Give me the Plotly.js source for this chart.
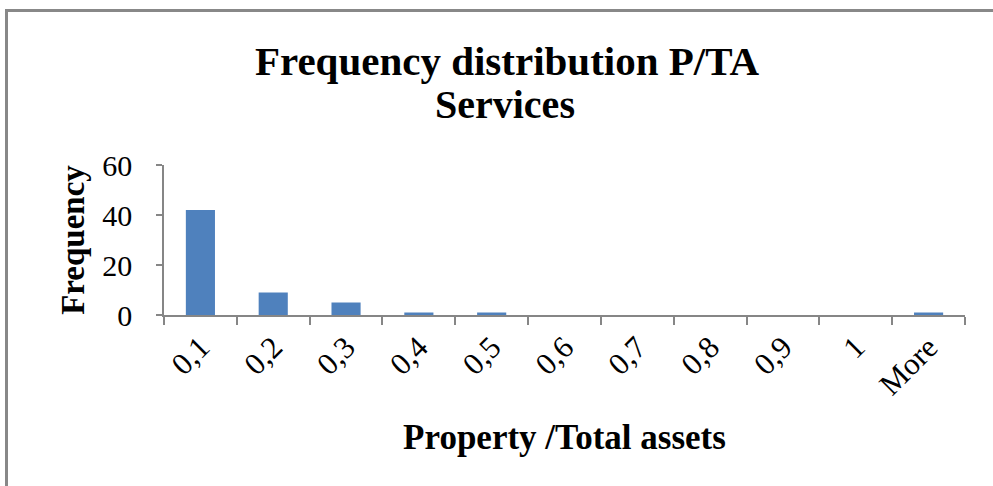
<!DOCTYPE html>
<html>
<head>
<meta charset="utf-8">
<script src="https://cdn.plot.ly/plotly-3.0.1.min.js"></script>
<style>
html,body{margin:0;padding:0;background:#fff;}
#chart{width:993px;height:486px;}
#frame{position:absolute;left:5px;top:9px;width:1200px;height:600px;border-left:3px solid #888;border-top:3px solid #888;pointer-events:none;}
</style>
</head>
<body>
<div id="chart"></div>
<div id="frame"></div>
<script>
const categories = ["0,1","0,2","0,3","0,4","0,5","0,6","0,7","0,8","0,9","1","More"];
const frequency = [42, 9, 5, 1, 1, 0, 0, 0, 0, 0, 1];
const yTicks = [0, 20, 40, 60];
const titleLines = ["Frequency distribution P/TA", "Services"];

const serif = "Liberation Serif, Times New Roman, serif";

Plotly.newPlot("chart", [{
  type: "bar",
  x: categories,
  y: frequency,
  marker: {color: "#4f81bd", line: {width: 0}},
  hoverinfo: "x+y"
}], {
  width: 993, height: 486,
  margin: {l: 164, r: 28, t: 165, b: 171},
  paper_bgcolor: "#fff", plot_bgcolor: "#fff",
  bargap: 0.6,
  showlegend: false,
  title: {
    text: "<b>" + titleLines[0] + "</b>",
    font: {family: serif, size: 41, color: "#000"},
    x: 507 / 993, xanchor: "center", xref: "container",
    y: 1 - 61 / 486, yanchor: "middle", yref: "container"
  },
  annotations: [{
    text: "<b>" + titleLines[1] + "</b>",
    font: {family: serif, size: 40, color: "#000"},
    xref: "paper", yref: "paper",
    x: (505 - 164) / (993 - 164 - 28), y: 1 + (165 - 104) / 150,
    xanchor: "center", yanchor: "middle", showarrow: false
  }],
  xaxis: {
    type: "category",
    tickangle: -45,
    tickson: "boundaries",
    ticks: "outside", ticklen: 8, tickcolor: "#868686", tickwidth: 1.5,
    showline: true, linecolor: "#868686", linewidth: 1.5,
    showgrid: false, zeroline: false,
    tickfont: {family: serif, size: 31, color: "#000"},
    title: {text: "<b>Property /Total assets</b>", font: {family: serif, size: 35, color: "#000"}, standoff: 24}
  },
  yaxis: {
    range: [0, 60],
    tickvals: yTicks,
    ticktext: yTicks.map(String),
    ticks: "outside", ticklen: 6, tickcolor: "#868686", tickwidth: 1.5,
    showline: true, linecolor: "#868686", linewidth: 1.5,
    showgrid: false, zeroline: false,
    ticklabelstandoff: 18,
    tickfont: {family: serif, size: 30, color: "#000"},
    title: {text: "<b>Frequency</b>", font: {family: serif, size: 33, color: "#000"}, standoff: 8}
  }
}, {displayModeBar: false});
</script>
</body>
</html>
